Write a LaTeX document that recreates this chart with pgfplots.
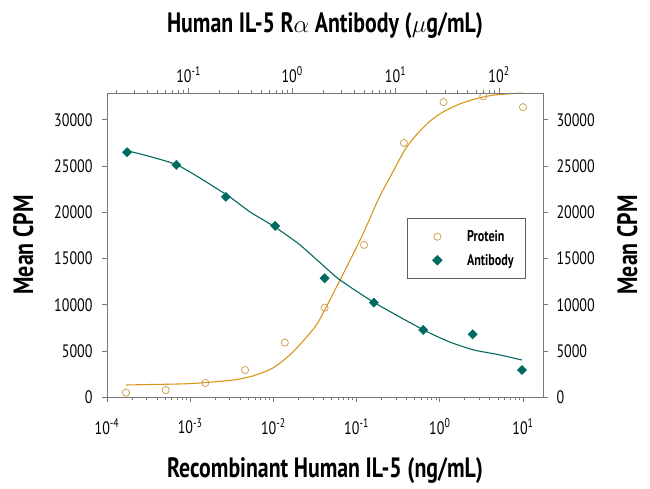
\documentclass[border=0pt]{standalone}
\usepackage{fontspec}
\setmainfont{PT Sans}[FakeStretch=0.78]
\usepackage{pgfplots}
\pgfplotsset{compat=1.18}
\definecolor{teal1}{RGB}{0,106,96}
\definecolor{gold1}{RGB}{214,150,28}
\definecolor{tan1}{RGB}{204,164,84}
\definecolor{axgray}{RGB}{120,120,120}
\begin{document}
\begin{tikzpicture}[x=1pt,y=1pt]
\useasboundingbox (0,0) rectangle (650,488);
% Protein (bottom axis, ng/mL)
\begin{axis}[xmode=log, log basis x=10,
  at={(107pt,90.7pt)}, anchor=south west, scale only axis,
  width=436pt, height=304.3pt,
  ymin=0, ymax=32900,
  xmin=1e-4, xmax=17.4,
  axis x line*=bottom, axis y line*=left,
  axis line style={axgray, line width=0.9pt},
  every tick/.style={axgray, line width=0.8pt},
  tick align=outside,
  major tick length=5pt, minor tick length=3pt,
  tick label style={font=\fontsize{18}{18}\selectfont, black},
  yticklabel style={/pgf/number format/assume math mode=true, /pgf/number format/set thousands separator={}, xshift=-6pt},
  xticklabel style={yshift=-13pt},
  scaled y ticks=false,
  ytick={0,5000,...,30000},
  xticklabel={10\textsuperscript{\pgfmathparse{int(round(\tick))}\pgfmathresult}}]
\addplot[gold1, line width=1.1pt, smooth, tension=0.4] coordinates {
(1.70e-4,1330) (3.16e-4,1380) (1e-3,1480) (3.16e-3,1850) (5.62e-3,2300)
(1e-2,3200) (0.0172,4900) (0.0316,7600) (0.0417,9500) (0.0631,12660)
(0.0834,14820) (0.1205,17740) (0.1875,21640) (0.276,24450) (0.382,26790)
(0.527,28410) (0.762,29860) (1.10,30860) (1.75,31730) (2.78,32300)
(4.40,32670) (7.64,32840) (10,32890)};
\addplot[only marks, mark=o, mark size=3.6pt, tan1, mark options={line width=0.8pt}] coordinates {
(0.000169,500) (0.000508,790) (0.00152,1550) (0.00457,2950) (0.0137,5910)
(0.0412,9690) (0.123,16480) (0.370,27500) (1.11,31910) (3.33,32540) (10,31370)};
\end{axis}
% Antibody (top axis, ug/mL)
\begin{axis}[xmode=log, log basis x=10,
  at={(107pt,90.7pt)}, anchor=south west, scale only axis,
  width=436pt, height=304.3pt,
  ymin=0, ymax=32900,
  xmin=0.01626, xmax=266,
  axis x line*=top, axis y line*=right,
  axis line style={axgray, line width=0.9pt},
  every tick/.style={axgray, line width=0.8pt},
  tick align=outside,
  major tick length=5pt, minor tick length=3pt,
  tick label style={font=\fontsize{18}{18}\selectfont, black},
  yticklabel style={/pgf/number format/assume math mode=true, /pgf/number format/set thousands separator={}, xshift=5pt},
  xticklabel style={yshift=2pt},
  scaled y ticks=false,
  ytick={0,5000,...,30000},
  xticklabel={10\textsuperscript{\pgfmathparse{int(round(\tick))}\pgfmathresult}},
  legend image code/.code={\path[draw=none, fill=none] (-20pt,-1pt) rectangle (0pt,1pt); \draw[#1] plot coordinates {(0pt,0pt)};},
  legend style={at={(0.688,0.589)}, anchor=north west, draw=axgray!80!black,
    line width=0.8pt, font=\fontsize{15.5}{15.5}\bfseries\selectfont,
    inner xsep=10pt, inner ysep=10pt, row sep=7pt, column sep=23pt},
  legend cell align=left]
\addlegendimage{only marks, mark=o, mark size=3.6pt, tan1, mark options={line width=0.8pt}}
\addlegendentry{Protein}
\addplot[teal1, line width=1.1pt, forget plot, smooth, tension=0.4] coordinates {
(0.0259,26640) (0.0771,25120) (0.234,21870) (0.391,20050) (0.681,18420)
(1.19,16480) (2.12,13990) (2.90,12690) (6.31,10200) (18.7,7280)
(33.4,5980) (57.0,5120) (102,4580) (166.7,4030)};
\addplot[only marks, mark=square*, mark size=3.3pt, mark options={rotate=45}, teal1] coordinates {
(0.0254,26500) (0.0762,25130) (0.229,21670) (0.686,18530) (2.06,12870)
(6.17,10240) (18.5,7280) (55.6,6810) (166.7,2950)};
\addlegendentry{Antibody}
\end{axis}
\node[font=\fontsize{28}{28}\bfseries\selectfont, anchor=base] at (325,455) {Human IL-5 R$\alpha$ Antibody ($\mu$g/mL)};
\node[font=\fontsize{28}{28}\bfseries\selectfont, anchor=base] at (325,11) {Recombinant Human IL-5 (ng/mL)};
\node[font=\fontsize{28}{28}\bfseries\selectfont, anchor=base, rotate=90] at (33,243) {Mean CPM};
\node[font=\fontsize{28}{28}\bfseries\selectfont, anchor=base, rotate=90] at (637,243) {Mean CPM};
\end{tikzpicture}
\end{document}
